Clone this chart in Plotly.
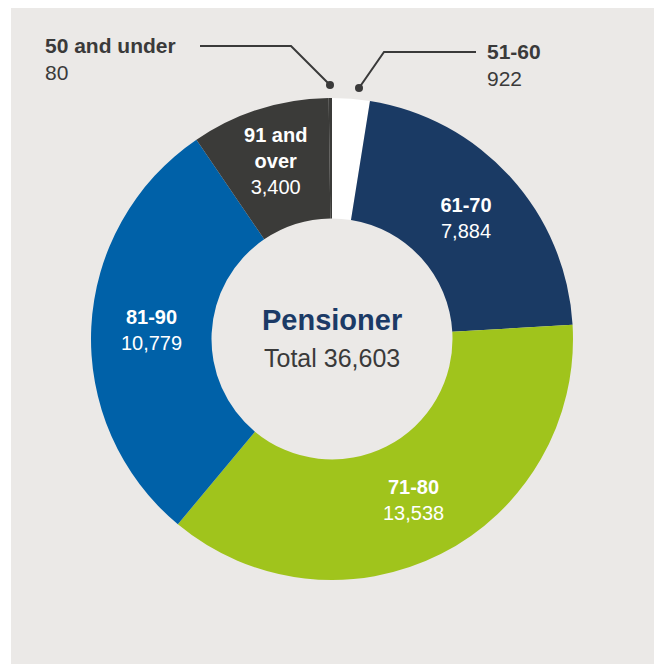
import plotly.graph_objects as go

# Data (clockwise from 12 o'clock)
categories = ["51-60", "61-70", "71-80", "81-90", "91 and over", "50 and under"]
display_labels = ["51-60", "61-70", "71-80", "81-90", "91 and<br>over", "50 and under"]
values = [922, 7884, 13538, 10779, 3400, 80]
colors = ["#ffffff", "#1a3a64", "#a0c41c", "#0061a8", "#3b3b39", "#3b3b39"]
show_inside = [False, True, True, True, True, False]
center_title = "Pensioner"
center_total = "Total 36,603"

W, H = 656, 664
FONT = "Liberation Sans, Arial, Helvetica, sans-serif"
BG = "#ebe9e7"
DARK = "#3a3a3a"

texts = [f"<b>{l}</b><br>{v:,}" if s else "" for l, v, s in zip(display_labels, values, show_inside)]

cx, cy, r = 332, 339, 241


def px(x):
    return x / W


def py(y):
    return 1 - y / H


fig = go.Figure()
fig.add_trace(go.Pie(
    labels=categories,
    values=values,
    text=texts,
    textinfo="text",
    textposition=["none" if not s else "inside" for s in show_inside],
    insidetextorientation="horizontal",
    insidetextfont=dict(color="white", size=20, family=FONT),
    hole=0.5,
    sort=False,
    direction="clockwise",
    rotation=0,
    marker=dict(colors=colors, line=dict(width=0)),
    domain=dict(x=[px(cx - r), px(cx + r)], y=[py(cy + r), py(cy - r)]),
    showlegend=False,
    hoverinfo="label+value",
))

shapes = [
    dict(type="rect", xref="paper", yref="paper", x0=px(11), x1=px(654), y0=0, y1=py(8),
         fillcolor=BG, line=dict(width=0), layer="below"),
    # leader for 50 and under
    dict(type="path", xref="paper", yref="paper",
         path=f"M {px(200)},{py(46)} L {px(291)},{py(46)} L {px(330)},{py(85)}",
         line=dict(color=DARK, width=2)),
    dict(type="circle", xref="paper", yref="paper",
         x0=px(326), x1=px(334), y0=py(89), y1=py(81), fillcolor=DARK, line=dict(width=0)),
    # leader for 51-60
    dict(type="path", xref="paper", yref="paper",
         path=f"M {px(359)},{py(88)} L {px(384)},{py(52)} L {px(476)},{py(52)}",
         line=dict(color=DARK, width=2)),
    dict(type="circle", xref="paper", yref="paper",
         x0=px(355), x1=px(363), y0=py(92), y1=py(84), fillcolor=DARK, line=dict(width=0)),
]

OUT = 21
annotations = [
    dict(x=px(43), y=py(46), xref="paper", yref="paper", xanchor="left", yanchor="middle",
         text=f"<b>{categories[5]}</b>", showarrow=False, font=dict(size=OUT, color=DARK, family=FONT)),
    dict(x=px(43), y=py(72), xref="paper", yref="paper", xanchor="left", yanchor="middle",
         text=f"{values[5]:,}", showarrow=False, font=dict(size=OUT, color=DARK, family=FONT)),
    dict(x=px(485), y=py(52), xref="paper", yref="paper", xanchor="left", yanchor="middle",
         text=f"<b>{categories[0]}</b>", showarrow=False, font=dict(size=OUT, color=DARK, family=FONT)),
    dict(x=px(485), y=py(78), xref="paper", yref="paper", xanchor="left", yanchor="middle",
         text=f"{values[0]:,}", showarrow=False, font=dict(size=OUT, color=DARK, family=FONT)),
    dict(x=px(332), y=py(320), xref="paper", yref="paper", xanchor="center", yanchor="middle",
         text=f"<b>{center_title}</b>", showarrow=False, font=dict(size=29, color="#1b3a66", family=FONT)),
    dict(x=px(332), y=py(358), xref="paper", yref="paper", xanchor="center", yanchor="middle",
         text=center_total, showarrow=False, font=dict(size=25, color=DARK, family=FONT)),
]

fig.update_layout(
    width=W, height=H,
    margin=dict(l=0, r=0, t=0, b=0),
    paper_bgcolor="white",
    plot_bgcolor="white",
    shapes=shapes,
    annotations=annotations,
    font=dict(family=FONT),
)

fig.write_html("out.html")
